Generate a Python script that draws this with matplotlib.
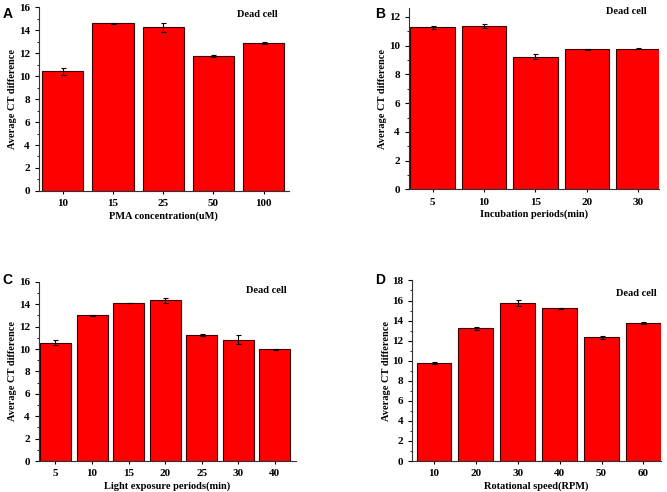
import numpy as np
import matplotlib
matplotlib.use('Agg')
import matplotlib.pyplot as plt
from matplotlib.ticker import MultipleLocator

# panel data
pma_labels = ['10', '15', '25', '50', '100']
pma_vals = [10.42, 14.62, 14.26, 11.76, 12.89]
pma_err = [0.30, 0.03, 0.38, 0.07, 0.12]

inc_labels = ['5', '10', '15', '20', '30']
inc_vals = [11.28, 11.37, 9.24, 9.74, 9.79]
inc_err = [0.10, 0.15, 0.15, 0.04, 0.05]

light_labels = ['5', '10', '15', '20', '25', '30', '40']
light_vals = [10.58, 13.02, 14.12, 14.34, 11.23, 10.82, 9.98]
light_err = [0.20, 0.05, 0.03, 0.25, 0.10, 0.40, 0.02]

rot_labels = ['10', '20', '30', '40', '50', '60']
rot_vals = [9.76, 13.25, 15.78, 15.21, 12.32, 13.78]
rot_err = [0.12, 0.15, 0.30, 0.02, 0.12, 0.12]

SERIF = 'Liberation Serif'

fig = plt.figure(figsize=(6.67, 4.92), dpi=100)

panels = [
    # letter, rect, labels, vals, err, xlabel, ylim, xlim, width, letter pos, "Dead cell" pos
    ('A', [0.0585, 0.612, 0.3745, 0.373], pma_labels, pma_vals, pma_err,
     'PMA concentration(uM)', 16, (-0.47, 4.5), 0.82, (0.004, 0.985), (0.875, 0.96)),
    ('B', [0.613, 0.615, 0.375, 0.368], inc_labels, inc_vals, inc_err,
     'Incubation periods(min)', 12.6, (-0.46, 4.4), 0.86, (0.562, 0.985), (0.87, 0.985)),
    ('C', [0.0585, 0.063, 0.3855, 0.364], light_labels, light_vals, light_err,
     'Light exposure periods(min)', 16, (-0.45, 6.58), 0.85, (0.004, 0.445), (0.885, 0.95)),
    ('D', [0.618, 0.063, 0.373, 0.367], rot_labels, rot_vals, rot_err,
     'Rotational speed(RPM)', 18, (-0.52, 5.42), 0.83, (0.562, 0.445), (0.9, 0.93)),
]

for letter, rect, labels, vals, err, xlabel, ytop, xlim, w, lpos, dpos in panels:
    ax = fig.add_axes(rect)
    x = np.arange(len(labels))
    ax.bar(x, vals, width=w, color='#ff0000', edgecolor='#3a0000', linewidth=0.8,
           yerr=err, error_kw=dict(ecolor='black', elinewidth=0.8, capsize=1.8, capthick=0.8))
    ax.set_xlim(*xlim)
    ax.set_ylim(0, ytop)
    ax.set_xticks(x)
    ax.set_xticklabels(labels)
    ax.yaxis.set_major_locator(MultipleLocator(2))
    ax.yaxis.set_minor_locator(MultipleLocator(1))
    ax.spines['top'].set_visible(False)
    ax.spines['right'].set_visible(False)
    for s in ('left', 'bottom'):
        ax.spines[s].set_linewidth(0.8)
        ax.spines[s].set_color('#333333')
    ax.tick_params(axis='y', which='major', length=3, width=0.8, direction='out')
    ax.tick_params(axis='y', which='minor', length=1.8, width=0.6, direction='out')
    ax.tick_params(axis='x', length=2, width=0.8, direction='out', pad=4)
    for t in ax.get_xticklabels() + ax.get_yticklabels():
        t.set_fontfamily(SERIF)
        t.set_fontweight('bold')
        t.set_fontsize(8)
    ax.set_xlabel(xlabel, fontfamily=SERIF, fontweight='bold', fontsize=7.5, labelpad=2)
    ax.set_ylabel('Average CT difference', fontfamily=SERIF, fontweight='bold', fontsize=7.5, labelpad=1)
    ax.text(dpos[0], dpos[1], 'Dead cell', transform=ax.transAxes, ha='center', va='center',
            fontfamily=SERIF, fontweight='bold', fontsize=7.5)
    fig.text(lpos[0], lpos[1], letter, ha='left', va='top',
             fontfamily='Liberation Sans', fontweight='bold', fontsize=10)

fig.savefig('out.png', dpi=100)
